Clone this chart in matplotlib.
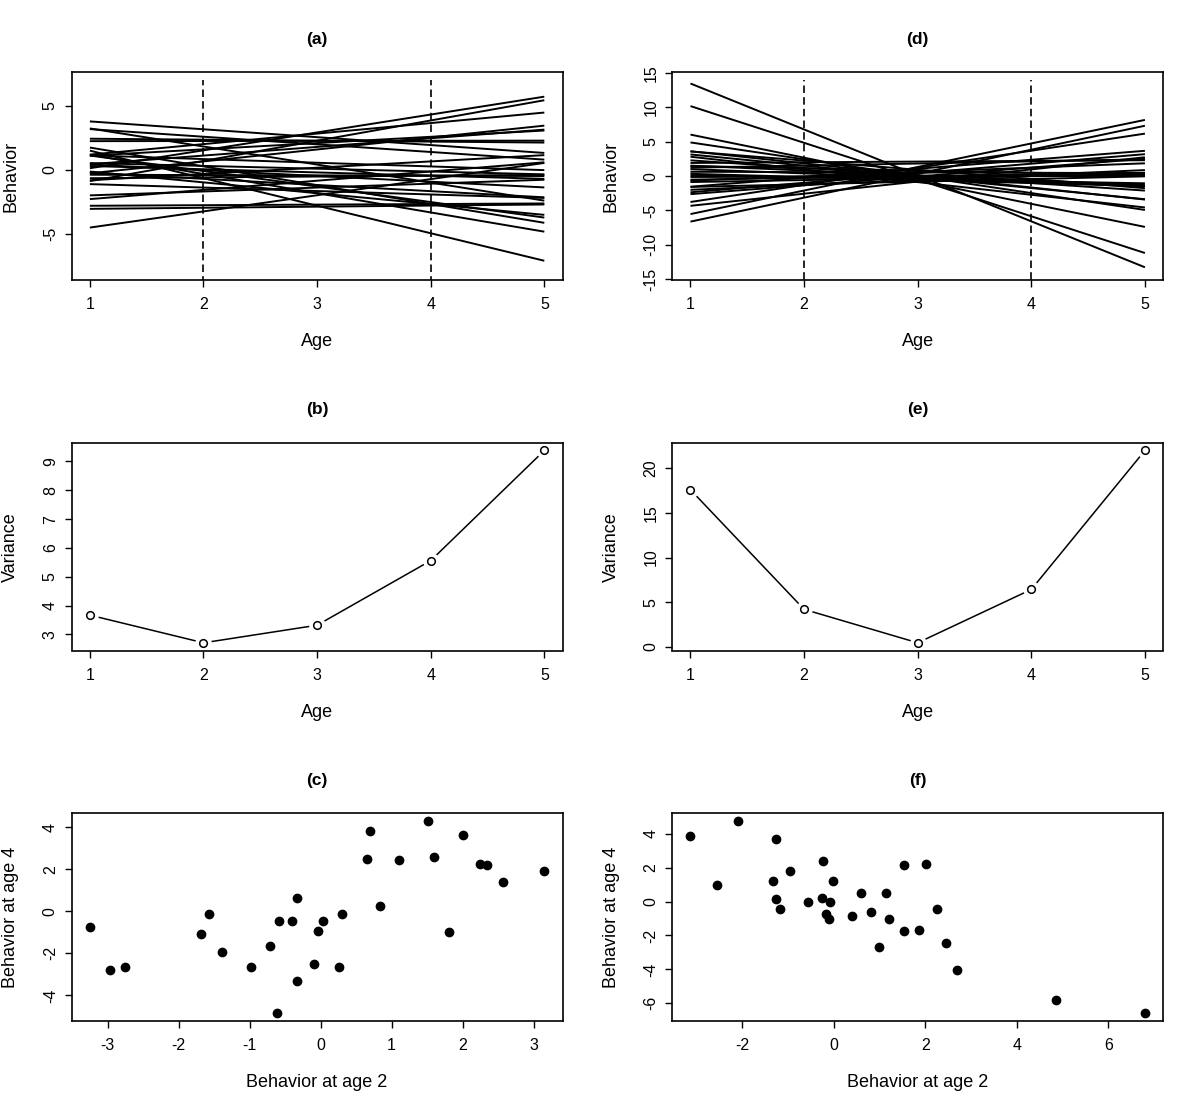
import matplotlib
matplotlib.use("Agg")
import matplotlib.pyplot as plt

plt.rcParams['font.family'] = ['Liberation Sans', 'DejaVu Sans']
plt.rcParams['axes.unicode_minus'] = False

ages = [1, 2, 3, 4, 5]

# panel (a): straight trajectories, value at age 1 and at age 5
a_start = [-4.51, -3.05, -2.81, -2.00, -2.29, -1.12, -0.14, -0.23, 1.49, -0.66,
           -0.39, -0.82, 1.17, 1.11, 0.41, 0.29, 1.73, 0.52, -0.28, -0.89,
           1.12, 0.43, 0.12, 1.10, 3.22, 1.18, 2.23, 2.42, 3.17, 3.77]
a_end = [0.53, -2.71, -2.63, -0.78, 0.58, -2.20, -3.52, -2.15, -7.10, -0.40,
         -0.49, 1.14, -4.83, -3.73, -1.38, -0.71, -4.14, -0.36, 3.44, 5.42,
         -0.03, 3.13, 5.70, 3.06, -2.41, 4.46, 2.27, 2.12, 0.79, 1.31]

# panel (d)
d_start = [-6.62, -4.32, -5.52, -2.62, -3.76, -1.99, -1.57, -2.35, -0.86, -0.51,
           -1.54, 0.12, 0.34, -0.12, -0.65, 1.02, 0.64, 1.53, 2.83, 1.47,
           2.30, 1.23, 3.16, 3.62, 1.92, 3.60, 4.91, 6.05, 10.20, 13.49]
d_end = [7.34, 2.75, 8.19, 2.53, 6.19, 0.88, -0.03, 3.20, 0.29, 0.49,
         3.69, -1.04, -1.45, 0.04, 1.87, -1.46, 0.44, -1.30, -4.56, 0.17,
         -2.10, 2.45, -3.36, -3.41, 2.32, -1.75, -4.92, -7.39, -11.19, -13.27]

# variance by age
var_b = [3.67, 2.71, 3.32, 5.56, 9.38]
var_e = [17.6, 4.2, 0.45, 6.43, 22.0]

# scatter: behavior at age 2 vs age 4
c_age2 = [-3.25, -2.96, -2.76, -1.69, -1.57, -1.39, -0.98, -0.71, -0.62, -0.59,
          -0.41, -0.33, -0.33, -0.10, -0.04, 0.04, 0.26, 0.30, 0.65, 0.69,
          0.83, 1.10, 1.51, 1.59, 1.81, 2.00, 2.24, 2.34, 2.57, 3.15]
c_age4 = [-0.73, -2.79, -2.67, -1.08, -0.14, -1.93, -2.67, -1.67, -4.84, -0.46,
          -0.46, 0.65, -3.33, -2.52, -0.93, -0.46, -2.67, -0.14, 2.51, 3.84,
          0.26, 2.45, 4.30, 2.57, -1.00, 3.64, 2.26, 2.19, 1.38, 1.92]

f_age2 = [-3.13, -2.55, -2.09, -1.33, -1.27, -1.27, -1.18, -0.96, -0.57, -0.26,
          -0.23, -0.17, -0.11, -0.08, -0.02, 0.40, 0.59, 0.82, 0.98, 1.14,
          1.20, 1.53, 1.53, 1.86, 2.02, 2.26, 2.45, 2.69, 4.85, 6.80]
f_age4 = [3.85, 0.98, 4.76, 1.24, 3.70, 0.16, -0.41, 1.81, 0.00, 0.24,
          2.38, -0.75, -1.00, 0.00, 1.24, -0.84, 0.49, -0.59, -2.71, 0.49,
          -1.00, 2.14, -1.73, -1.65, 2.22, -0.41, -2.46, -4.03, -5.84, -6.58]


def rlim(lo, hi):
    # R-style 4% padding
    d = (hi - lo) * 0.04
    return lo - d, hi + d


W, H = 1200.0, 1111.0
cols = [71.7, 672.3]
rows = [(72.3, 280.0), (442.8, 650.5), (813.3, 1020.7)]
box_w = 490.8

fig = plt.figure(figsize=(12, 11.11), dpi=100)


def make_ax(col, row, title, xlabel, ylabel):
    top, bot = rows[row]
    ax = fig.add_axes([cols[col] / W, 1 - bot / H, box_w / W, (bot - top) / H])
    h = bot - top
    for s in ax.spines.values():
        s.set_linewidth(1.2)
        s.set_zorder(3)
    ax.tick_params(direction='out', length=5, width=1.0, labelsize=11.5,
                   color='black')
    ax.tick_params(axis='x', pad=7.5)
    ax.tick_params(axis='y', pad=5, labelrotation=90)
    ax.text(0.5, 1 + 33 / h, title, transform=ax.transAxes, ha='center',
            va='center', fontsize=12.5, fontweight='bold')
    ax.set_xlabel(xlabel, fontsize=13)
    ax.set_ylabel(ylabel, fontsize=13)
    ax.xaxis.set_label_coords(0.5, -62 / h)
    ax.xaxis.label.set_va('center')
    ax.yaxis.set_label_coords(-61 / box_w, 0.5)
    ax.yaxis.label.set_va('center')
    return ax


def finish_y(ax):
    for lbl in ax.get_yticklabels():
        lbl.set_va('center')


# (a) and (d): trajectories
for col, title, starts, ends, ylim, vtop, yt in [
        (0, '(a)', a_start, a_end, (-8, 7), 7, [-5, 0, 5]),
        (1, '(d)', d_start, d_end, (-14, 14), 14, [-15, -10, -5, 0, 5, 10, 15])]:
    ax = make_ax(col, 0, title, 'Age', 'Behavior')
    for s, e in zip(starts, ends):
        ax.plot([ages[0], ages[-1]], [s, e], color='black', lw=1.4,
                solid_capstyle='butt')
    ax.vlines([2, 4], -100, vtop, colors='black', linestyles=(0, (4.5, 2.5)),
              lw=1.2)
    ax.set_xlim(rlim(1, 5))
    ax.set_ylim(rlim(*ylim))
    ax.set_xticks(ages)
    ax.set_yticks(yt)
    finish_y(ax)

# (b) and (e): variance
for col, title, var, yt in [(0, '(b)', var_b, [3, 4, 5, 6, 7, 8, 9]),
                            (1, '(e)', var_e, [0, 5, 10, 15, 20])]:
    ax = make_ax(col, 1, title, 'Age', 'Variance')
    ax.plot(ages, var, color='black', lw=1.1, zorder=2)
    ax.plot(ages, var, ls='none', marker='o', ms=12, mfc='white', mec='none',
            zorder=2.2)
    ax.plot(ages, var, ls='none', marker='o', ms=5.5, mfc='white',
            mec='black', mew=1.1, zorder=4)
    ax.set_xlim(rlim(1, 5))
    ax.set_ylim(rlim(min(var), max(var)))
    ax.set_xticks(ages)
    ax.set_yticks(yt)
    finish_y(ax)

# (c) and (f): age 2 vs age 4
for col, title, xs, ys, xt, yt in [
        (0, '(c)', c_age2, c_age4, [-3, -2, -1, 0, 1, 2, 3], [-4, -2, 0, 2, 4]),
        (1, '(f)', f_age2, f_age4, [-2, 0, 2, 4, 6], [-6, -4, -2, 0, 2, 4])]:
    ax = make_ax(col, 2, title, 'Behavior at age 2', 'Behavior at age 4')
    ax.plot(xs, ys, ls='none', marker='o', ms=6, color='black')
    ax.set_xlim(rlim(min(xs), max(xs)))
    ax.set_ylim(rlim(min(ys), max(ys)))
    ax.set_xticks(xt)
    ax.set_yticks(yt)
    finish_y(ax)

fig.savefig('out.png', dpi=100, facecolor='white')
